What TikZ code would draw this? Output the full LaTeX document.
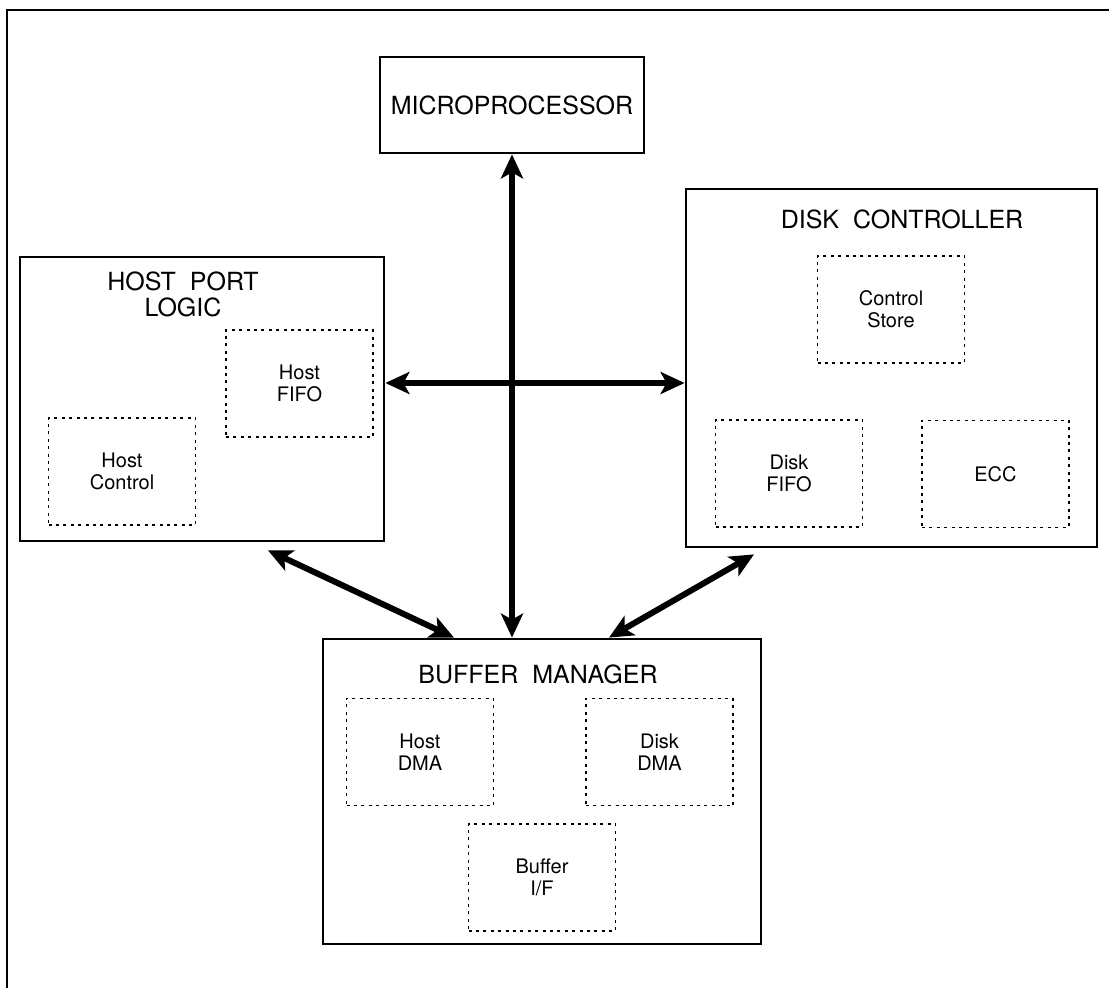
\documentclass[tikz,border=0pt]{standalone}
\usepackage{fontspec}
\setmainfont{TeX Gyre Heros}
\usetikzlibrary{arrows.meta,calc}

\begin{document}
\begin{tikzpicture}[x=0.5pt, y=-0.5pt,
		mainblk/.style={draw, line width=1.4pt, inner sep=0pt},
		dotblk/.style={draw, line width=0.9pt, dash pattern=on 1.5pt off 2.2pt, minimum width=73.5pt, minimum height=53.5pt, align=center, font=\fontsize{10}{11}\selectfont},
		blktitle/.style={align=center, font=\fontsize{12.5}{13}\selectfont},
		bus/.style={line width=3pt, {Stealth[length=12pt,width=11pt,inset=3pt]}-{Stealth[length=12pt,width=11pt,inset=3pt]}}]
		
		\useasboundingbox (0,0) rectangle (1109,988);
		
		% --- HILFSMAKRO FUER INNERE BLOECKE ---
		\newcommand{\innerblk}[4]{ % #1:Name, #2:x, #3:y, #4:Text
			\node[dotblk] (#1) at (#2,#3) {#4};
		}
		
		% --- RAHMEN ---
		\draw[line width=1pt] (7,988) -- (7,10) -- (1109,10);
		
		% --- HAUPTBLOECKE ---
		\node[mainblk, blktitle, minimum width=132pt, minimum height=48pt] (micro) at (512,105) {MICROPROCESSOR};
		\node[mainblk, minimum width=182pt, minimum height=142pt] (host) at (202,399) {};
		\node[mainblk, minimum width=205.5pt, minimum height=179pt] (disk) at (891.5,368) {};
		\node[mainblk, minimum width=219pt, minimum height=152.5pt] (buff) at (542,791.5) {};
		
		\node[blktitle] (hosttitle) at (183,294) {HOST\ \ PORT\\LOGIC};
		\node[blktitle] (disktitle) at (902,219) {DISK\ \ CONTROLLER};
		\node[blktitle] (bufftitle) at (538,674) {BUFFER\ \ MANAGER};
		
		% --- INNERE BLOECKE ---
		\innerblk{hfifo}{299.5}{383.5}{Host\\FIFO}
		\innerblk{hctrl}{122}{471.5}{Host\\Control}
		\innerblk{cstore}{891}{309.5}{Control\\Store}
		\innerblk{dfifo}{789}{473.5}{Disk\\FIFO}
		\innerblk{ecc}{995.5}{474}{ECC}
		\innerblk{hdma}{420}{752}{Host\\DMA}
		\innerblk{ddma}{659.5}{752}{Disk\\DMA}
		\innerblk{bif}{542}{877.5}{Buffer\\I/F}
		
		% --- BUSSE ---
		\coordinate (cross) at (512,383);
		\draw[bus] (micro.south) -- (micro.south |- buff.north);
		\draw[bus] (cross -| host.east) -- (cross -| disk.west);
		\draw[bus] ($(host.south)+(66,8)$) -- ($(buff.north)+(-88,0)$);
		\draw[bus] ($(buff.north)+(67,0)$) -- ($(disk.south)+(-137.5,6)$);
		
	\end{tikzpicture}
\end{document}
